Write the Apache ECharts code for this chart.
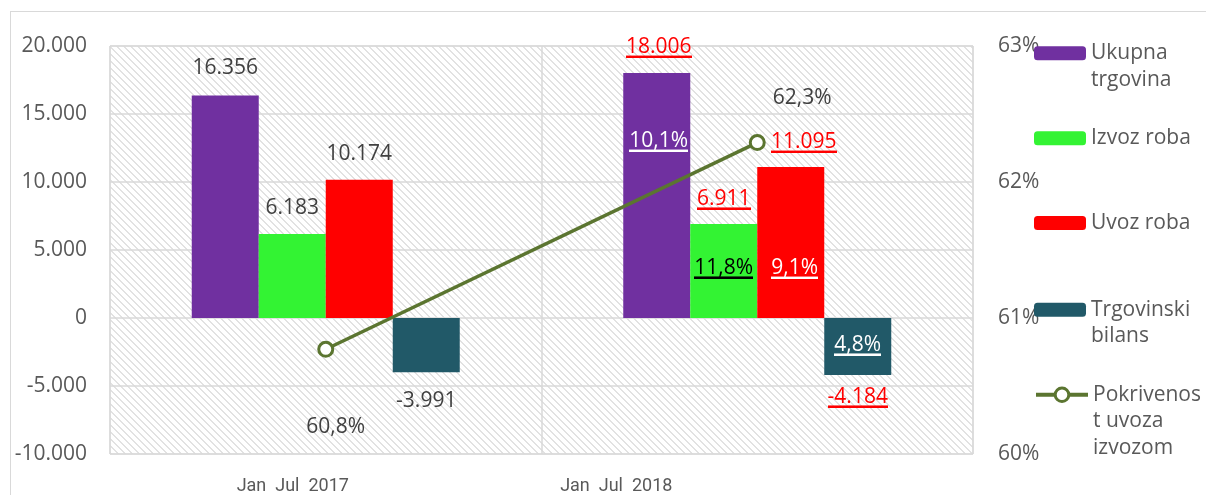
<!DOCTYPE html>
<html>
<head>
<meta charset="utf-8">
<script src="https://cdn.jsdelivr.net/npm/echarts@6/dist/echarts.min.js"></script>
<style>
html, body { margin: 0; padding: 0; background: #fff; }
#frame { position: absolute; left: 10px; top: 11px; width: 1300px; height: 600px; border: 1px solid #d9d9d9; }
#main { position: absolute; left: 0; top: 0; width: 1206px; height: 495px; }
</style>
</head>
<body>
<div id="frame"></div>
<div id="main"></div>
<script>
var categories = ['Jan  Jul  2017', 'Jan  Jul  2018'];
var ukupnaTrgovina = [16356, 18006];
var izvozRoba = [6183, 6911];
var uvozRoba = [10174, 11095];
var trgovinskiBilans = [-3991, -4184];
var pokrivenost = [60.77, 62.29];
// stope rasta 2018 / 2017
var rastUkupna = [null, 10.1];
var rastIzvoz = [null, 11.8];
var rastUvoz = [null, 9.1];
var rastBilans = [null, 4.8];

var leftTicks = [-10000, 20000, 5000];
var rightTicks = [60, 63, 1];

var FONT = 'Open Sans';
var FS = 21;
var GRAY = '#404040';
var OLIVE = '#5B7530';

function num(v) {
    var s = String(Math.abs(v)).replace(/\B(?=(\d{3})+(?!\d))/g, '.');
    return (v < 0 ? '-' : '') + s;
}
function pct(v) {
    return v.toFixed(1).replace('.', ',') + '%';
}

// underline trick: stretched canvas as token background
function underline(color) {
    var c = document.createElement('canvas');
    c.width = 2;
    c.height = 20;
    var ctx = c.getContext('2d');
    ctx.fillStyle = color;
    ctx.fillRect(0, 18, 2, 2);
    return c;
}

function hatch() {
    var n = 7;
    var c = document.createElement('canvas');
    c.width = n;
    c.height = n;
    var ctx = c.getContext('2d');
    ctx.fillStyle = '#fff';
    ctx.fillRect(0, 0, n, n);
    ctx.fillStyle = '#e2e2e2';
    for (var i = 0; i < n; i++) {
        ctx.fillRect(i, i, 1, 1);
        ctx.fillRect((i + 1) % n, i, 1, 1);
    }
    return c;
}

function uStyle(color) {
    return {
        color: color,
        fontFamily: FONT,
        fontSize: FS,
        lineHeight: 24,
        backgroundColor: {image: underline(color)}
    };
}

function barSeries(name, values, rast, color, pos) {
    return {
        name: name,
        type: 'bar',
        barWidth: 67,
        barGap: 0,
        itemStyle: {color: color},
        data: values.map(function(v, i) {
            var item = {value: v};
            if (i === 0) {
                item.label = {
                    show: true,
                    position: ['50%', pos.y17],
                    align: 'center',
                    verticalAlign: 'middle',
                    color: GRAY,
                    fontFamily: FONT,
                    fontSize: FS,
                    formatter: num(v)
                };
            } else {
                var vTxt = (pos.vShift ? '{sp| }' : '') + '{v|' + num(v) + '}';
                var pTxt = '{p|' + pct(rast[i]) + '}';
                var txt = v < 0
                    ? pTxt + '\n{g| }\n' + vTxt
                    : vTxt + '\n{g| }\n' + pTxt;
                item.label = {
                    show: true,
                    position: ['50%', pos.top18],
                    align: 'center',
                    verticalAlign: 'top',
                    offset: [pos.dx18 || 0, 0],
                    formatter: txt,
                    rich: {
                        v: uStyle('#ff0000'),
                        p: uStyle(pos.pColor),
                        g: {fontSize: 2, lineHeight: pos.gap18},
                        sp: {width: pos.vShift || 0, fontSize: 2}
                    }
                };
            }
            return item;
        })
    };
}

var series = [
    barSeries('Ukupna trgovina', ukupnaTrgovina, rastUkupna, '#7030A0',
        {y17: -28, top18: -38, gap18: 70, pColor: '#ffffff', dx18: 2}),
    barSeries('Izvoz roba', izvozRoba, rastIzvoz, '#33F333',
        {y17: -26, top18: -37, gap18: 45, pColor: '#000000'}),
    barSeries('Uvoz roba', uvozRoba, rastUvoz, '#FF0000',
        {y17: -26, top18: -37, gap18: 102, pColor: '#ffffff', dx18: 4, vShift: 18}),
    barSeries('Trgovinski bilans', trgovinskiBilans, rastBilans, '#215968',
        {y17: 82.7, top18: 15, gap18: 28, pColor: '#ffffff'}),
    {
        name: 'Pokrivenost uvoza izvozom',
        type: 'line',
        yAxisIndex: 1,
        symbol: 'circle',
        symbolSize: 14,
        z: 5,
        lineStyle: {color: OLIVE, width: 3.5},
        itemStyle: {color: '#fff', borderColor: OLIVE, borderWidth: 3},
        data: pokrivenost.map(function(v, i) {
            return {
                value: v,
                label: {
                    show: true,
                    position: 'inside',
                    offset: i === 0 ? [10, 78] : [45, -45],
                    color: GRAY,
                    fontFamily: FONT,
                    fontSize: FS,
                    formatter: pct(v)
                }
            };
        })
    }
];

var legendText = {
    'Ukupna trgovina': '\nUkupna\ntrgovina',
    'Izvoz roba': 'Izvoz roba',
    'Uvoz roba': 'Uvoz roba',
    'Trgovinski bilans': '\nTrgovinski\nbilans',
    'Pokrivenost uvoza izvozom': '\n\nPokrivenos\nt uvoza\nizvozom'
};
var legendTops = [13.6, 125, 209.7, 270, 330];

var legends = series.map(function(s, i) {
    var isLine = s.type === 'line';
    return {
        data: [s.name],
        orient: 'vertical',
        left: 1034,
        top: isLine ? legendTops[i] - 1.5 : legendTops[i],
        padding: 0,
        itemWidth: 52,
        itemHeight: isLine ? 17 : 14,
        selectedMode: false,
        lineStyle: {width: 4},
        itemStyle: isLine ? {borderWidth: 3} : {},
        formatter: function(n) { return legendText[n]; },
        textStyle: {fontFamily: FONT, fontSize: FS, color: '#595959', lineHeight: 26.5}
    };
});

var chart = echarts.init(document.getElementById('main'), null, {renderer: 'canvas'});

chart.setOption({
    animation: false,
    backgroundColor: 'transparent',
    legend: legends,
    grid: {
        left: 110,
        right: 233,
        top: 46,
        bottom: 40,
        show: true,
        backgroundColor: {image: hatch(), repeat: 'repeat'},
        borderColor: '#d9d9d9',
        borderWidth: 1
    },
    xAxis: {
        type: 'category',
        data: categories,
        axisLine: {show: false},
        axisTick: {show: false},
        splitLine: {show: true, interval: 0, lineStyle: {color: '#d9d9d9', width: 1.5}},
        axisLabel: {
            margin: 23,
            interval: 0,
            formatter: function(v, i) {
                return (i === 0 ? '{a|' : '{b|') + v + '}';
            },
            rich: {
                a: {fontFamily: 'Roboto', fontSize: 18, color: '#595959', padding: [0, 66, 0, 0]},
                b: {fontFamily: 'Roboto', fontSize: 18, color: '#595959', padding: [0, 282, 0, 0]}
            }
        }
    },
    yAxis: [
        {
            type: 'value',
            min: leftTicks[0],
            max: leftTicks[1],
            interval: leftTicks[2],
            axisLine: {show: false},
            axisTick: {show: false},
            splitLine: {lineStyle: {color: '#d9d9d9', width: 1.5}},
            axisLabel: {
                margin: 23,
                color: '#595959',
                fontFamily: FONT,
                fontSize: FS,
                formatter: function(v) { return num(v); }
            }
        },
        {
            type: 'value',
            position: 'right',
            min: rightTicks[0],
            max: rightTicks[1],
            interval: rightTicks[2],
            axisLine: {show: false},
            axisTick: {show: false},
            splitLine: {show: false},
            axisLabel: {
                margin: 25,
                color: '#595959',
                fontFamily: FONT,
                fontSize: FS,
                formatter: function(v) { return v + '%'; }
            }
        }
    ],
    series: series
});
</script>
</body>
</html>
